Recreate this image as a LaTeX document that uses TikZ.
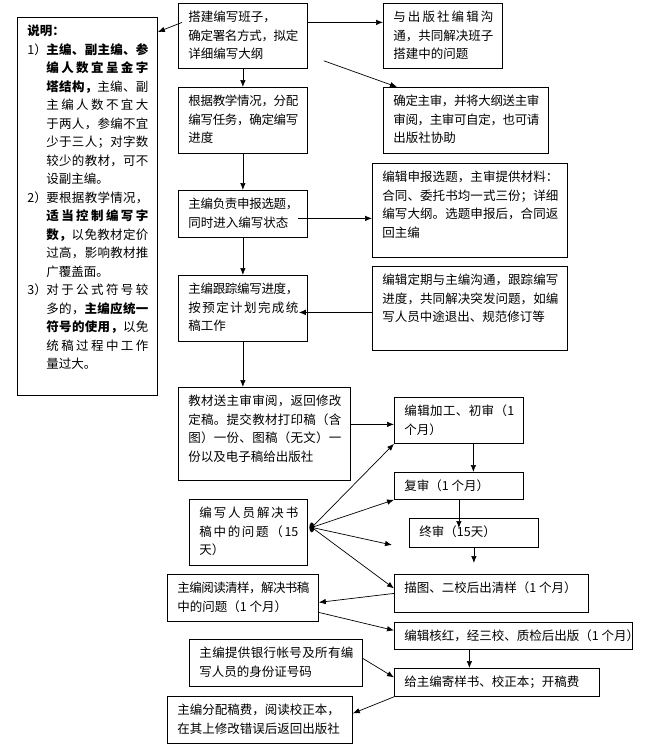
\documentclass[tikz,border=0pt]{standalone}
\usepackage{fontspec}
\setmainfont{Noto Sans CJK SC}
\usetikzlibrary{arrows.meta, positioning}

\newcount\cc
\cc="3000 \loop \XeTeXcharclass\cc=1 \advance\cc 1 \ifnum\cc<"3040 \repeat
\cc="4E00 \loop \XeTeXcharclass\cc=1 \advance\cc 1 \ifnum\cc<"A000 \repeat
\cc="FF00 \loop \XeTeXcharclass\cc=1 \advance\cc 1 \ifnum\cc<"FFF0 \repeat
\XeTeXinterchartokenstate=1
\XeTeXinterchartoks 1 1 = {\hskip 0pt plus 3pt minus 1pt}
\XeTeXinterchartoks 1 0 = {\hskip 0pt plus 3pt minus 1pt}
\XeTeXinterchartoks 0 1 = {\hskip 0pt plus 3pt minus 1pt}

\newcommand{\cell}[3]{\parbox[c][#2pt][t]{#1pt}{\tolerance=10000\leftskip=10pt\rightskip=9pt\vspace{5.5pt}\strut#3}}
\newcommand{\jbr}{\linebreak}
\newcommand{\nr}[1]{\makebox[19pt][l]{#1}}
\newcommand{\ind}{\hspace*{19pt}}

\tikzset{
  box/.style={draw, line width=.8pt, anchor=north west, inner sep=0pt},
  arr/.style={line width=.7pt, -{Latex[length=7pt, width=5.5pt]}}
}

\begin{document}
\begin{tikzpicture}[x=1pt, y=-1pt, font=\fontsize{12.5}{18.5}\selectfont]
\useasboundingbox (0,0) rectangle (649,750);

\node[box] (note) at (17,17) {\cell{140}{378}{%
\textbf{说明：}\\
\nr{1）}\textbf{主编、副主编、参}\jbr
\ind\textbf{编人数宜呈金字}\jbr
\ind\textbf{塔结构，}主编、副\jbr
\ind 主编人数不宜大\jbr
\ind 于两人，参编不宜\jbr
\ind 少于三人；对字数\jbr
\ind 较少的教材，可不\jbr
\ind 设副主编。\\
\nr{2）}要根据教学情况，\jbr
\ind\textbf{适当控制编写字}\jbr
\ind\textbf{数，}以免教材定价\jbr
\ind 过高，影响教材推\jbr
\ind 广覆盖面。\\
\nr{3）}对于公式符号较\jbr
\ind 多的，\textbf{主编应统一}\jbr
\ind\textbf{符号的使用，}以免\jbr
\ind 统稿过程中工作\jbr
\ind 量过大。}};

\node[box] (A) at (178,3) {\cell{129}{65}{搭建编写班子，\\确定署名方式，拟定\jbr 详细编写大纲}};
\node[box] (B) at (383,3) {\cell{119}{65}{与出版社编辑沟\jbr 通，共同解决班子\jbr 搭建中的问题}};
\node[box] (C) at (178,87) {\cell{129}{66}{根据教学情况，分配\jbr 编写任务，确定编写\jbr 进度}};
\node[box] (D) at (383,87) {\cell{165}{66}{确定主审，并将大纲送主审\\审阅，主审可自定，也可请\\出版社协助}};
\node[box] (E) at (372,163) {\cell{195}{94}{编辑申报选题，主审提供材料：\jbr 合同、委托书均一式三份；详细\jbr 编写大纲。选题申报后，合同返\jbr 回主编}};
\node[box] (F) at (178,190) {\cell{129}{47}{主编负责申报选题，\\同时进入编写状态}};
\node[box] (G) at (178,275) {\cell{129}{66}{主编跟踪编写进度，\jbr 按预定计划完成统\jbr 稿工作}};
\node[box] (H) at (372,266) {\cell{195}{84}{编辑定期与主编沟通，跟踪编写\jbr 进度，共同解决突发问题，如编\jbr 写人员中途退出、规范修订等}};
\node[box] (I) at (178,387) {\cell{172}{93}{教材送主审审阅，返回修改\jbr 定稿。提交教材打印稿（含\jbr 图）一份、图稿（无文）一\jbr 份以及电子稿给出版社}};
\node[box] (J) at (394,397) {\cell{129}{46}{编辑加工、初审（1\jbr 个月）}};
\node[box] (K) at (394,472) {\cell{129}{27}{\mbox{复审（1 个月）}}};
\node[box] (L) at (409,518) {\cell{129}{29}{\mbox{终审（15天）}}};
\node[box] (N) at (189,499) {\cell{118}{66}{编写人员解决书\jbr 稿中的问题（15\jbr 天）}};
\node[box] (M) at (394,574) {\cell{194}{38}{\mbox{描图、二校后出清样（1 个月）}}};
\node[box] (O) at (167,574) {\cell{151}{47}{主编阅读清样，解决书稿\jbr 中的问题（1 个月）}};
\node[box] (P) at (394,622) {\cell{238}{27}{\mbox{编辑核红，经三校、质检后出版（1 个月）}}};
\node[box] (R) at (189,639) {\cell{173}{47}{主编提供银行帐号及所有编\jbr 写人员的身份证号码}};
\node[box] (Q) at (394,668) {\cell{205}{28}{\mbox{给主编寄样书、校正本；开稿费}}};
\node[box] (S) at (167,696) {\cell{185}{47}{主编分配稿费，阅读校正本，\\在其上修改错误后返回出版社}};

\coordinate (hub) at ([xshift=4pt, yshift=5pt]N.east);
\coordinate (gap) at (392,545);

\draw[arr] ([xshift=4pt, yshift=13.5pt]A.west) -- ([yshift=-15pt]note.north east);
\draw[arr] ([yshift=13.5pt]A.east) -- ([yshift=13.5pt]A.east -| B.west);
\draw[arr] (A.south) -- (C.north);
\draw[arr] ([xshift=16pt, yshift=8pt]A.south east) -- ([xshift=14pt]D.north west);
\draw[arr] (C.south) -- (F.north);
\draw[arr] ([xshift=-10pt, yshift=-4.5pt]F.east) -- ([yshift=-4.5pt]F.east -| E.west);
\draw[arr] (F.south) -- (G.north);
\draw[arr] ([yshift=-4pt]H.west) -- ([xshift=-9pt, yshift=-4pt]G.east);
\draw[arr] (G.south) -- (G.south |- I.north);
\draw[arr] ([yshift=9.5pt]I.east) -- ([yshift=9.5pt]I.east -| J.west);
\draw[arr] ([xshift=14.5pt]J.south) -- ([xshift=14.5pt]J.south |- K.north);
\draw[arr] (K.south) -- ([yshift=-10pt]K.south |- L.north);
\draw[arr] (L.south) -- ([yshift=11pt]L.south |- M.north);

\fill (hub) ellipse (2.5pt and 5pt);
\draw[arr] (hub) -- (J.south west);
\draw[arr] (hub) -- (K.south west);
\draw[arr] (hub) -- (gap);
\draw[arr] (hub) -- ([yshift=5pt]M.west);

\draw[arr] (M.west) -- ([yshift=-4.5pt]O.east);
\draw[arr] ([yshift=-14.5pt]O.east) -- ([yshift=5.5pt]P.west);
\draw[arr] ([xshift=-44pt]P.south) -- ([xshift=-44pt]P.south |- Q.north);
\draw[arr] ([yshift=4.5pt]R.east) -- ([yshift=5pt]Q.west);
\draw[arr] (Q.south west) -- ([yshift=6.5pt]S.east);
\end{tikzpicture}
\end{document}
